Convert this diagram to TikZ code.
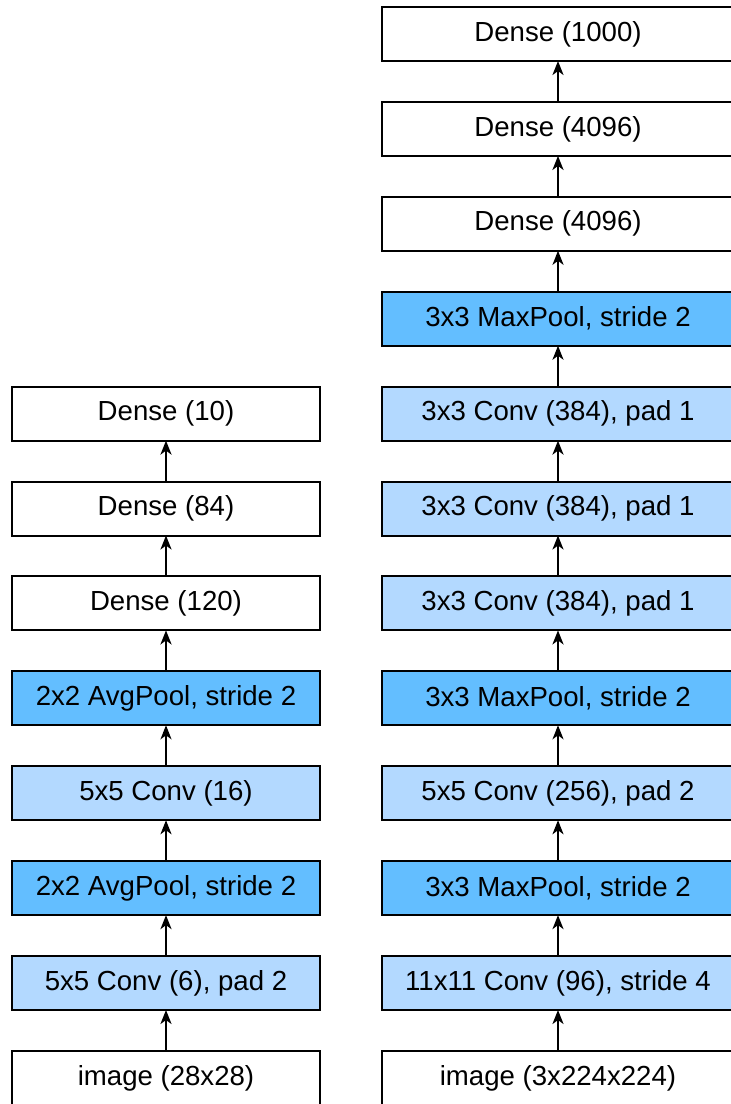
\documentclass[tikz,border=0pt]{standalone}
\usepackage{fontspec}
\setmainfont{Liberation Sans}
\usetikzlibrary{arrows.meta}
\definecolor{convblue}{RGB}{179,217,255}
\definecolor{poolblue}{RGB}{99,190,255}
\tikzset{
    ampersand replacement=\&,
    >={Stealth[length=7pt,width=5.5pt,inset=2pt]},
    layer/.style={
        draw=black,
        line width=1pt,
        minimum width=154pt,
        minimum height=27pt,
        inner sep=2pt,
        font=\fontsize{13.8}{16}\selectfont,
    },
    wide/.style={
        minimum width=176pt,
    },
    conv/.style={
        layer,
        fill=convblue,
    },
    pool/.style={
        layer,
        fill=poolblue,
    },
    flow/.style={
        ->,
        draw=black,
        line width=1.1pt,
    },
}

\begin{document}
\begin{tikzpicture}
    \useasboundingbox (0,0) rectangle (365pt,-552pt);
    \matrix[anchor=north west, inner sep=0pt, outer sep=0pt, row sep=19.45pt, column sep=30pt] at (5.5pt,-3pt) {
        \& \node[layer,wide] (rd3) {Dense (1000)} ; \\
        \& \node[layer,wide] (rd2) {Dense (4096)} ; \\
        \& \node[layer,wide] (rd1) {Dense (4096)} ; \\
        \& \node[pool,wide] (rp3) {3x3 MaxPool, stride 2} ; \\
        \node[layer] (ld3) {Dense (10)} ; \&
        \node[conv,wide] (rc5) {3x3 Conv (384), pad 1} ; \\
        \node[layer] (ld2) {Dense (84)} ; \&
        \node[conv,wide] (rc4) {3x3 Conv (384), pad 1} ; \\
        \node[layer] (ld1) {Dense (120)} ; \&
        \node[conv,wide] (rc3) {3x3 Conv (384), pad 1} ; \\
        \node[pool] (lp2) {2x2 AvgPool, stride 2} ; \&
        \node[pool,wide] (rp2) {3x3 MaxPool, stride 2} ; \\
        \node[conv] (lc2) {5x5 Conv (16)} ; \&
        \node[conv,wide] (rc2) {5x5 Conv (256), pad 2} ; \\
        \node[pool] (lp1) {2x2 AvgPool, stride 2} ; \&
        \node[pool,wide] (rp1) {3x3 MaxPool, stride 2} ; \\
        \node[conv] (lc1) {5x5 Conv (6), pad 2} ; \&
        \node[conv,wide] (rc1) {11x11 Conv (96), stride 4} ; \\
        \node[layer] (limg) {image (28x28)} ; \&
        \node[layer,wide] (rimg) {image (3x224x224)} ; \\
    } ;

    % LeNet (left) and AlexNet (right)
    \foreach \a/\b in {limg/lc1, lc1/lp1, lp1/lc2, lc2/lp2, lp2/ld1, ld1/ld2, ld2/ld3,
        rimg/rc1, rc1/rp1, rp1/rc2, rc2/rp2, rp2/rc3, rc3/rc4, rc4/rc5,
        rc5/rp3, rp3/rd1, rd1/rd2, rd2/rd3}
        \draw[flow] (\a) -- (\b);
\end{tikzpicture}
\end{document}
